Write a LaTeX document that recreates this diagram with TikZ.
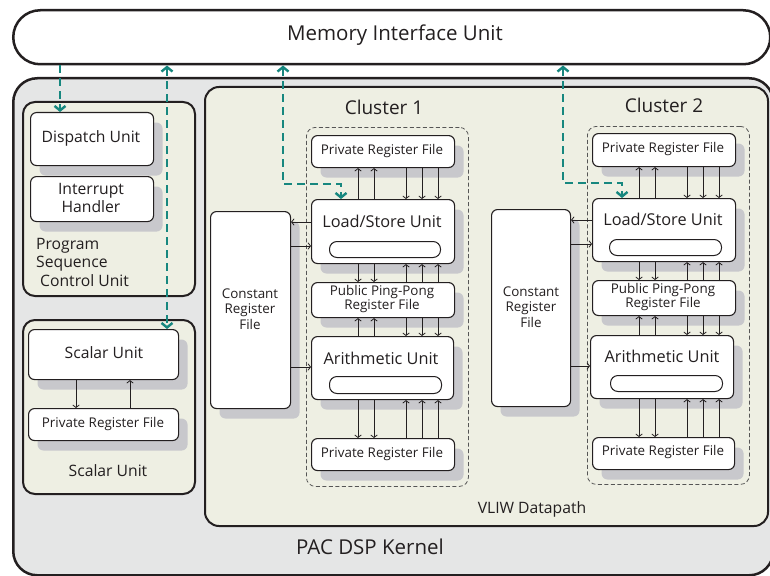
\documentclass[tikz,border=0pt]{standalone}
\usepackage{fontspec}
\setmainfont{Open Sans}
\usetikzlibrary{arrows.meta,shadows}
\definecolor{kgray}{HTML}{E5E6E6}
\definecolor{beige}{HTML}{EEEFE3}
\definecolor{shgray}{HTML}{C8C8CC}
\definecolor{ink}{HTML}{231F20}
\definecolor{tealc}{HTML}{17877F}
\definecolor{dashgray}{HTML}{555555}
\tikzset{
  wh/.style 2 args={minimum width=#1pt, minimum height=#2pt},
  unitbox/.style={draw=ink, line width=1.1pt, fill=white, rounded corners=6pt, anchor=north west, inner sep=0pt,
    general shadow={fill=shgray, shadow xshift=9pt, shadow yshift=-10pt}},
  pill/.style={draw=ink, line width=1pt, fill=white, rounded corners=7.5pt, anchor=north west, inner sep=0pt},
  groupbox/.style={draw=ink, line width=2pt, fill=beige, rounded corners=12pt, anchor=north west, inner sep=0pt},
  clusterbox/.style={draw=dashgray, line width=0.8pt, dash pattern=on 4pt off 2.5pt, rounded corners=9pt, anchor=north west, inner sep=0pt},
  lbl/.style={text=ink, inner sep=0pt, align=center},
  fbig/.style={font=\fontsize{20.5}{24}\selectfont},
  fclu/.style={font=\fontsize{19}{22}\selectfont},
  fmed/.style={font=\fontsize{15.7}{18.5}\selectfont},
  flsu/.style={font=\fontsize{16.3}{19}\selectfont},
  fsm/.style={font=\fontsize{13.4}{15.5}\selectfont},
  fpp/.style={font=\fontsize{13.4}{14}\selectfont},
  sarr/.style={draw=ink, line width=0.8pt, -{Straight Barb[length=2.5pt,width=6.5pt]}},
  tealline/.style={draw=tealc, line width=2.4pt, dash pattern=on 8pt off 5pt},
  tealend/.style={-{Straight Barb[length=4.5pt,width=11pt]}},
  tealboth/.style={{Straight Barb[length=4.5pt,width=11pt]}-{Straight Barb[length=4.5pt,width=11pt]}},
}
\begin{document}
\begin{tikzpicture}[x=1pt,y=-1pt]
\clip (0,0) rectangle (770,575);
\fill[white] (0,0) rectangle (770,575);

% Memory interface unit
\node[draw=ink, line width=2.5pt, fill=white, rounded corners=27pt, anchor=north west, inner sep=0pt, wh={757}{54}] (miu) at (12,9) {};
\node[lbl, fbig] (miut) at (395,35) {Memory Interface Unit};

% Kernel
\node[draw=ink, line width=2.5pt, fill=kgray, rounded corners=24pt, anchor=north west, inner sep=0pt, wh={760}{497}] (kern) at (12,77) {};
\node[lbl, fbig] (kernt) at (370,547) {PAC DSP Kernel};

% VLIW datapath
\node[groupbox, rounded corners=14pt, wh={563}{439}] (vliw) at (204,86) {};
\node[lbl, fmed] (vliwt) at (532,509) {VLIW Datapath};

% Program sequence control unit
\node[groupbox, wh={172}{194}] (pscu) at (22,101) {};
\node[unitbox, wh={123}{53}] (disp) at (30,112) {};
\node[lbl, fmed] (dispt) at (91,138) {Dispatch Unit};
\node[unitbox, wh={123}{45}] (intr) at (30,176) {};
\node[lbl, fmed] (intrt) at (91,198) {Interrupt\\Handler};
\node[lbl, fmed, align=left, anchor=west] (pscut) at (36,262) {Program\\Sequence\\\hspace*{4pt}Control Unit};

% Scalar unit group
\node[groupbox, wh={172}{174}] (sgrp) at (22,319) {};
\node[unitbox, wh={150}{50}] (su) at (28,329) {};
\node[lbl, fmed] (sut) at (104,353) {Scalar Unit};
\node[unitbox, wh={150}{32}] (prfs) at (28,408) {};
\node[lbl, fsm] (prfst) at (103,424) {Private Register File};
\node[lbl, fmed] (sgrpt) at (108,471) {Scalar Unit};
\coordinate (sd) at (76,0);
\coordinate (sup) at (130,0);
\draw[sarr] (su.south -| sd) -- (prfs.north -| sd);
\draw[sarr] (prfs.north -| sup) -- (su.south -| sup);

% ---------- Cluster 1 ----------
\node[lbl, fclu] (c1t) at (384,107) {Cluster 1};
\node[clusterbox, wh={162}{359}] (c1) at (306,127) {};
\node[unitbox, wh={80}{197}] (crf1) at (210,211) {};
\node[lbl, fsm] (crf1t) at (250,309) {Constant\\Register\\File};
\node[unitbox, wh={143}{32}] (prf1t) at (311,135) {};
\node[lbl, fsm] (prf1tt) at (382,151) {Private Register File};
\node[unitbox, wh={143}{64}] (lsu1) at (311,199) {};
\node[lbl, flsu] (lsu1t) at (382,221) {Load/Store Unit};
\node[pill, wh={111}{16}] (lsu1p) at (329,241) {};
\node[unitbox, wh={143}{35}] (pp1) at (311,282) {};
\node[lbl, fpp] (pp1t) at (382,299) {Public Ping-Pong\\Register File};
\node[unitbox, wh={142}{63}] (au1) at (311,336) {};
\node[lbl, flsu] (au1t) at (381,358) {Arithmetic Unit};
\node[pill, wh={112}{17}] (au1p) at (329,376) {};
\node[unitbox, wh={143}{32}] (prf1b) at (311,438) {};
\node[lbl, fsm] (prf1bt) at (382,454) {Private Register File};

\coordinate (a1) at (358,0);
\coordinate (a2) at (374,0);
\coordinate (a3) at (406,0);
\coordinate (a4) at (422,0);
\coordinate (a5) at (438,0);
\foreach \c in {a1,a2}{
  \draw[sarr] (lsu1.north -| \c) -- (prf1t.south -| \c);
  \draw[sarr] (lsu1.south -| \c) -- (pp1.north -| \c);
  \draw[sarr] (au1.north -| \c) -- (pp1.south -| \c);
  \draw[sarr] (au1.south -| \c) -- (prf1b.north -| \c);
}
\foreach \c in {a3,a4,a5}{
  \draw[sarr] (prf1t.south -| \c) -- (lsu1.north -| \c);
  \draw[sarr] (pp1.north -| \c) -- (lsu1.south -| \c);
  \draw[sarr] (pp1.south -| \c) -- (au1.north -| \c);
  \draw[sarr] (prf1b.north -| \c) -- (au1.south -| \c);
}
\coordinate (h1) at (0,222);
\coordinate (h2) at (0,246);
\coordinate (h3) at (0,367);
\draw[sarr] (lsu1.west |- h1) -- (crf1.east |- h1);
\draw[sarr] (crf1.east |- h2) -- (lsu1.west |- h2);
\draw[sarr] (crf1.east |- h3) -- (au1.west |- h3);

% ---------- Cluster 2 ----------
\node[lbl, fclu] (c2t) at (664,105) {Cluster 2};
\node[clusterbox, wh={162}{358}] (c2) at (587,126) {};
\node[unitbox, wh={79}{197}] (crf2) at (491,209) {};
\node[lbl, fsm] (crf2t) at (531,307) {Constant\\Register\\File};
\node[unitbox, wh={143}{33}] (prf2t) at (592,133) {};
\node[lbl, fsm] (prf2tt) at (663,149) {Private Register File};
\node[unitbox, wh={143}{63}] (lsu2) at (592,198) {};
\node[lbl, flsu] (lsu2t) at (663,219) {Load/Store Unit};
\node[pill, wh={112}{16}] (lsu2p) at (609,239) {};
\node[unitbox, wh={143}{35}] (pp2) at (592,280) {};
\node[lbl, fpp] (pp2t) at (663,297) {Public Ping-Pong\\Register File};
\node[unitbox, wh={143}{63}] (au2) at (590,335) {};
\node[lbl, flsu] (au2t) at (662,356) {Arithmetic Unit};
\node[pill, wh={112}{16}] (au2p) at (610,375) {};
\node[unitbox, wh={142}{32}] (prf2b) at (592,437) {};
\node[lbl, fsm] (prf2bt) at (663,452) {Private Register File};

\coordinate (b1) at (639,0);
\coordinate (b2) at (655,0);
\coordinate (b3) at (687,0);
\coordinate (b4) at (703,0);
\coordinate (b5) at (719,0);
\foreach \c in {b1,b2}{
  \draw[sarr] (lsu2.north -| \c) -- (prf2t.south -| \c);
  \draw[sarr] (lsu2.south -| \c) -- (pp2.north -| \c);
  \draw[sarr] (au2.north -| \c) -- (pp2.south -| \c);
  \draw[sarr] (au2.south -| \c) -- (prf2b.north -| \c);
}
\foreach \c in {b3,b4,b5}{
  \draw[sarr] (prf2t.south -| \c) -- (lsu2.north -| \c);
  \draw[sarr] (pp2.north -| \c) -- (lsu2.south -| \c);
  \draw[sarr] (pp2.south -| \c) -- (au2.north -| \c);
  \draw[sarr] (prf2b.north -| \c) -- (au2.south -| \c);
}
\coordinate (g1) at (0,220);
\coordinate (g2) at (0,244);
\coordinate (g3) at (0,366);
\draw[sarr] (lsu2.west |- g1) -- (crf2.east |- g1);
\draw[sarr] (crf2.east |- g2) -- (lsu2.west |- g2);
\draw[sarr] (crf2.east |- g3) -- (au2.west |- g3);

% ---------- Teal memory connections ----------
\coordinate (t1) at (60,0);
\coordinate (t2) at (167,0);
\coordinate (k3a) at (283,184);
\coordinate (k3b) at (341,184);
\coordinate (k4a) at (563,183);
\coordinate (k4b) at (622,183);
\draw[tealline, tealend] (miu.south -| t1) -- (disp.north -| t1);
\draw[tealline, tealboth] (miu.south -| t2) -- (su.north -| t2);
\draw[tealline, tealboth] (miu.south -| k3a) -- (k3a) -- (k3b) -- (lsu1.north -| k3b);
\draw[tealline, tealboth] (miu.south -| k4a) -- (k4a) -- (k4b) -- (lsu2.north -| k4b);
\end{tikzpicture}
\end{document}
